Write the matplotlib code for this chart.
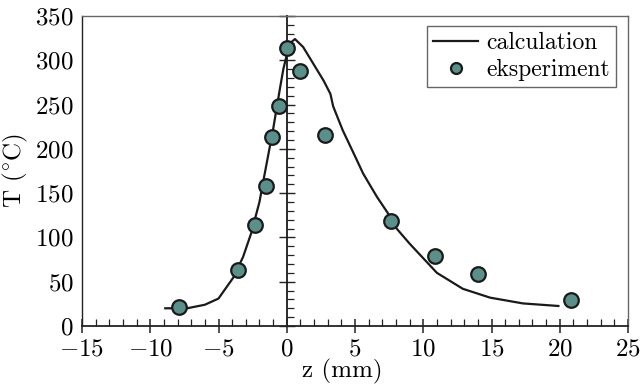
import matplotlib
matplotlib.use("Agg")
import matplotlib.pyplot as plt
from matplotlib.ticker import MultipleLocator

plt.rcParams['font.family'] = 'cmr10'
plt.rcParams['mathtext.fontset'] = 'cm'
plt.rcParams['axes.formatter.use_mathtext'] = True
plt.rcParams['font.size'] = 18

# calculation curve
calc_z = [-8.9, -7.3, -6.0, -5.0, -3.9, -3.2, -2.6, -2.0, -1.7, -1.0, -0.5, -0.25, 0.0,
          0.3, 0.6, 1.2, 1.95, 2.7, 3.2, 3.4, 4.1, 4.9, 5.6, 6.6, 7.6, 8.05, 9.0, 11.0, 12.9,
          14.9, 17.3, 19.9]
calc_T = [20, 20, 24, 31, 55, 78, 105, 140, 165, 222, 268, 290, 306,
          320, 324, 315, 296, 277, 262, 248, 221, 195, 172, 146, 123, 110, 93, 60, 42,
          32, 25.5, 22.6]

# experiment points
exp_z = [-7.9, -3.55, -2.35, -1.5, -1.1, -0.55, 0.0, 1.0, 2.8, 7.65, 10.85, 14.0, 20.8]
exp_T = [21, 63, 114, 158, 213, 248, 314, 288, 216, 118, 79, 59, 29]

xticks = [-15, -10, -5, 0, 5, 10, 15, 20, 25]
yticks = [0, 50, 100, 150, 200, 250, 300, 350]

fig = plt.figure(figsize=(6.42, 3.85), dpi=100)
ax = fig.add_axes([82/642, 1-326/385, 546/642, 310/385])

ax.plot(calc_z, calc_T, color='#1a1a1a', lw=1.6, label='calculation', zorder=3)
ax.plot(exp_z, exp_T, linestyle='none', marker='o', markersize=10.5,
        markerfacecolor='#5b8f8a', markeredgecolor='#1a1a1a', markeredgewidth=1.6,
        label='eksperiment', zorder=4)

ax.set_xlim(-15, 25)
ax.set_ylim(0, 350)
ax.set_xticks(xticks)
ax.set_yticks(yticks)
ax.xaxis.set_minor_locator(MultipleLocator(1))
ax.yaxis.set_minor_locator(MultipleLocator(10))

for s in ['top', 'right']:
    ax.spines[s].set_color('#666666')
    ax.spines[s].set_linewidth(1.0)
ax.spines['left'].set_color('#222222')
ax.spines['bottom'].set_color('#222222')
ax.spines['bottom'].set_linewidth(1.3)
ax.spines['left'].set_linewidth(1.0)

ax.tick_params(axis='x', which='major', direction='inout', length=10, width=1.1, color='#222222', pad=4)
ax.tick_params(axis='x', which='minor', direction='in', length=5, width=0.9, color='#222222')
ax.tick_params(axis='y', which='both', length=0, pad=6)
ax.tick_params(axis='x', which='both', top=False)

# inner vertical axis at z = 0
ax2 = fig.add_axes(ax.get_position(), sharex=ax, sharey=ax, facecolor='none')
for s in ['top', 'right', 'bottom']:
    ax2.spines[s].set_visible(False)
ax2.spines['left'].set_position(('data', 0))
ax2.spines['left'].set_color('#1a1a1a')
ax2.spines['left'].set_linewidth(1.3)
ax2.tick_params(axis='y', which='major', direction='inout', length=11, width=1.0, color='#222222', labelleft=False)
ax2.tick_params(axis='y', which='minor', direction='in', length=5, width=0.9, color='#222222')
ax2.tick_params(axis='x', which='both', bottom=False, labelbottom=False)
ax2.set_zorder(ax.get_zorder() - 1)
ax.patch.set_visible(False)

ax.set_xlabel('z (mm)')
ax.xaxis.set_label_coords(0.476, -0.105)
ax.set_ylabel(r'T ($^{\circ}$C)', labelpad=4)

leg = ax.legend(loc='upper right', bbox_to_anchor=(0.978, 0.968), frameon=True, fancybox=False,
                edgecolor='#666666', framealpha=1, handlelength=1.9, handletextpad=0.35,
                borderpad=0.25, labelspacing=0.2, borderaxespad=0, markerscale=0.75,
                fontsize=17)
leg.get_frame().set_linewidth(1.0)

fig.savefig('out.png', dpi=100)
